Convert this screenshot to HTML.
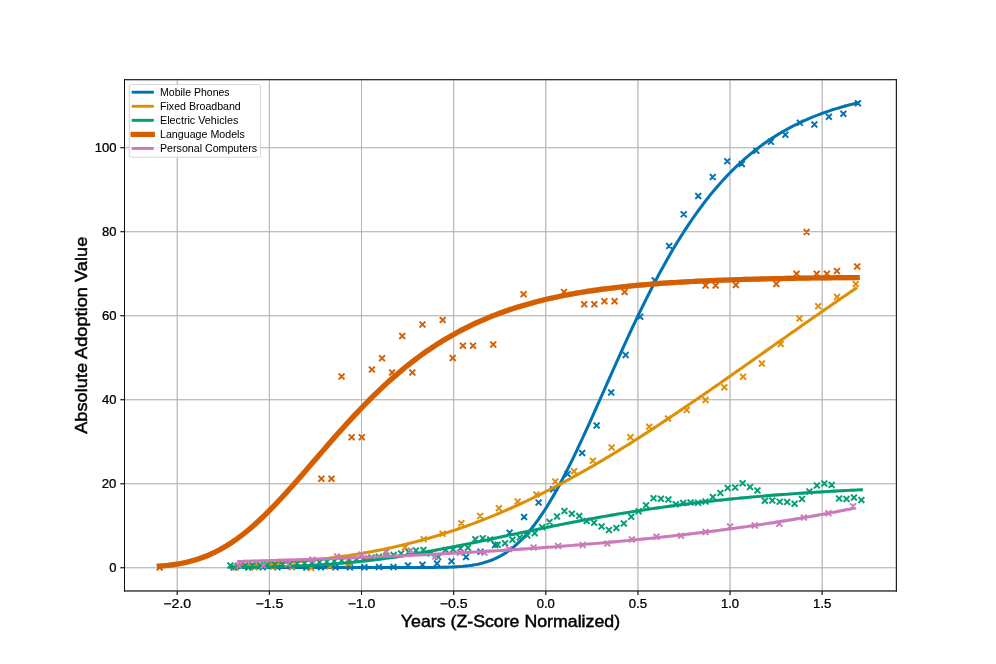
<!DOCTYPE html>
<html><head><meta charset="utf-8"><title>Adoption chart</title>
<style>html,body{margin:0;padding:0;background:#fff;} svg{display:block;} svg{will-change:transform;}</style></head>
<body>
<svg width="996" height="664" viewBox="0 0 996 664">
<rect width="996" height="664" fill="#ffffff"/>
<defs><clipPath id="ax"><rect x="124.5" y="79.68" width="771.9" height="511.28"/></clipPath><filter id="gam" x="0" y="0" width="100%" height="100%" filterUnits="userSpaceOnUse" color-interpolation-filters="sRGB"><feComponentTransfer><feFuncA type="gamma" amplitude="1" exponent="0.7" offset="0"/></feComponentTransfer></filter></defs>
<g filter="url(#gam)">
<path d="M177.26 79.68V590.96M269.39 79.68V590.96M361.52 79.68V590.96M453.65 79.68V590.96M545.78 79.68V590.96M637.91 79.68V590.96M730.04 79.68V590.96M822.17 79.68V590.96M124.5 567.72H896.4M124.5 483.72H896.4M124.5 399.71H896.4M124.5 315.71H896.4M124.5 231.70H896.4M124.5 147.70H896.4" stroke="#b0b0b0" stroke-width="0.922" fill="none" stroke-opacity="1"/>
<g clip-path="url(#ax)">
<path d="M230.95 564.52L236.71 570.28M230.95 570.28L236.71 564.52M245.46 564.52L251.23 570.28M245.46 570.28L251.23 564.52M259.97 564.42L265.74 570.18M259.97 570.18L265.74 564.42M274.49 564.32L280.25 570.08M274.49 570.08L280.25 564.32M289.00 564.12L294.77 569.88M289.00 569.88L294.77 564.12M303.51 564.52L309.28 570.28M303.51 570.28L309.28 564.52M318.03 564.42L323.79 570.18M318.03 570.18L323.79 564.42M332.54 564.42L338.31 570.18M332.54 570.18L338.31 564.42M347.05 564.32L352.82 570.08M347.05 570.08L352.82 564.32M361.57 564.32L367.33 570.08M361.57 570.08L367.33 564.32M376.08 564.22L381.85 569.98M376.08 569.98L381.85 564.22M390.59 564.12L396.36 569.88M390.59 569.88L396.36 564.12M405.11 562.52L410.87 568.28M405.11 568.28L410.87 562.52M419.62 561.92L425.38 567.68M419.62 567.68L425.38 561.92M434.13 560.72L439.90 566.48M434.13 566.48L439.90 560.72M448.65 558.42L454.41 564.18M448.65 564.18L454.41 558.42M463.16 554.22L468.92 559.98M463.16 559.98L468.92 554.22M477.67 548.92L483.44 554.68M477.67 554.68L483.44 548.92M492.19 542.22L497.95 547.98M492.19 547.98L497.95 542.22M506.70 529.82L512.46 535.58M506.70 535.58L512.46 529.82M521.21 514.22L526.98 519.98M521.21 519.98L526.98 514.22M535.73 499.72L541.49 505.48M535.73 505.48L541.49 499.72M550.24 486.32L556.00 492.08M550.24 492.08L556.00 486.32M564.75 471.12L570.52 476.88M564.75 476.88L570.52 471.12M579.27 450.02L585.03 455.78M579.27 455.78L585.03 450.02M593.78 422.52L599.54 428.28M593.78 428.28L599.54 422.52M608.29 389.52L614.06 395.28M608.29 395.28L614.06 389.52M622.81 352.12L628.57 357.88M622.81 357.88L628.57 352.12M637.32 313.92L643.08 319.68M637.32 319.68L643.08 313.92M651.83 277.32L657.60 283.08M651.83 283.08L657.60 277.32M666.35 243.12L672.11 248.88M666.35 248.88L672.11 243.12M680.86 211.32L686.62 217.08M680.86 217.08L686.62 211.32M695.37 193.22L701.14 198.98M695.37 198.98L701.14 193.22M709.89 174.02L715.65 179.78M709.89 179.78L715.65 174.02M724.40 158.42L730.16 164.18M724.40 164.18L730.16 158.42M738.91 161.02L744.68 166.78M738.91 166.78L744.68 161.02M753.43 147.82L759.19 153.58M753.43 153.58L759.19 147.82M767.94 138.82L773.70 144.58M767.94 144.58L773.70 138.82M782.45 131.82L788.22 137.58M782.45 137.58L788.22 131.82M796.97 119.92L802.73 125.68M796.97 125.68L802.73 119.92M811.48 121.72L817.24 127.48M811.48 127.48L817.24 121.72M825.99 113.92L831.76 119.68M825.99 119.68L831.76 113.92M840.51 110.92L846.27 116.68M840.51 116.68L846.27 110.92M855.02 100.42L860.78 106.18M855.02 106.18L860.78 100.42" stroke="#0173B2" stroke-width="1.73" fill="none"/>
<polyline points="233.83,567.53 236.97,567.53 240.10,567.53 243.24,567.53 246.37,567.53 249.51,567.53 252.65,567.53 255.78,567.53 258.92,567.53 262.05,567.53 265.19,567.53 268.33,567.53 271.46,567.53 274.60,567.53 277.73,567.53 280.87,567.53 284.01,567.53 287.14,567.53 290.28,567.53 293.41,567.53 296.55,567.53 299.69,567.53 302.82,567.53 305.96,567.53 309.10,567.53 312.23,567.53 315.37,567.53 318.50,567.53 321.64,567.53 324.78,567.53 327.91,567.53 331.05,567.53 334.18,567.53 337.32,567.53 340.46,567.53 343.59,567.53 346.73,567.53 349.86,567.53 353.00,567.53 356.14,567.53 359.27,567.53 362.41,567.53 365.54,567.53 368.68,567.53 371.82,567.53 374.95,567.53 378.09,567.53 381.22,567.53 384.36,567.53 387.50,567.53 390.63,567.53 393.77,567.53 396.90,567.53 400.04,567.53 403.18,567.53 406.31,567.53 409.45,567.53 412.58,567.52 415.72,567.52 418.86,567.52 421.99,567.51 425.13,567.50 428.26,567.49 431.40,567.47 434.54,567.44 437.67,567.41 440.81,567.36 443.94,567.30 447.08,567.22 450.22,567.11 453.35,566.98 456.49,566.81 459.62,566.61 462.76,566.35 465.90,566.04 469.03,565.67 472.17,565.22 475.31,564.68 478.44,564.05 481.58,563.31 484.71,562.46 487.85,561.47 490.99,560.34 494.12,559.06 497.26,557.61 500.39,555.99 503.53,554.19 506.67,552.18 509.80,549.97 512.94,547.55 516.07,544.91 519.21,542.04 522.35,538.95 525.48,535.61 528.62,532.05 531.75,528.25 534.89,524.21 538.03,519.94 541.16,515.44 544.30,510.71 547.43,505.77 550.57,500.61 553.71,495.25 556.84,489.69 559.98,483.95 563.11,478.03 566.25,471.95 569.39,465.71 572.52,459.34 575.66,452.84 578.79,446.22 581.93,439.50 585.07,432.70 588.20,425.81 591.34,418.87 594.47,411.87 597.61,404.84 600.75,397.78 603.88,390.71 607.02,383.64 610.15,376.58 613.29,369.53 616.43,362.52 619.56,355.55 622.70,348.62 625.83,341.75 628.97,334.94 632.11,328.21 635.24,321.56 638.38,314.99 641.52,308.51 644.65,302.12 647.79,295.84 650.92,289.66 654.06,283.59 657.20,277.64 660.33,271.79 663.47,266.07 666.60,260.46 669.74,254.97 672.88,249.60 676.01,244.36 679.15,239.24 682.28,234.24 685.42,229.36 688.56,224.61 691.69,219.98 694.83,215.47 697.96,211.08 701.10,206.81 704.24,202.66 707.37,198.63 710.51,194.71 713.64,190.90 716.78,187.21 719.92,183.63 723.05,180.15 726.19,176.78 729.32,173.51 732.46,170.35 735.60,167.28 738.73,164.31 741.87,161.44 745.00,158.66 748.14,155.97 751.28,153.37 754.41,150.85 757.55,148.42 760.68,146.07 763.82,143.79 766.96,141.60 770.09,139.48 773.23,137.43 776.36,135.45 779.50,133.54 782.64,131.70 785.77,129.92 788.91,128.21 792.05,126.55 795.18,124.96 798.32,123.42 801.45,121.93 804.59,120.50 807.73,119.12 810.86,117.79 814.00,116.51 817.13,115.27 820.27,114.08 823.41,112.93 826.54,111.83 829.68,110.76 832.81,109.74 835.95,108.75 839.09,107.80 842.22,106.88 845.36,106.00 848.49,105.15 851.63,104.33 854.77,103.54 857.90,102.79" stroke="#0173B2" stroke-width="2.88" fill="none" stroke-linecap="square" stroke-linejoin="round"/>
<path d="M233.03 564.62L238.79 570.38M233.03 570.38L238.79 564.62M251.81 564.62L257.58 570.38M251.81 570.38L257.58 564.62M270.60 563.92L276.36 569.68M270.60 569.68L276.36 563.92M289.38 563.92L295.15 569.68M289.38 569.68L295.15 563.92M308.17 565.12L313.93 570.88M308.17 570.88L313.93 565.12M326.95 563.72L332.72 569.48M326.95 569.48L332.72 563.72M345.74 560.62L351.50 566.38M345.74 566.38L351.50 560.62M364.52 556.12L370.29 561.88M364.52 561.88L370.29 556.12M383.31 548.72L389.07 554.48M383.31 554.48L389.07 548.72M402.10 544.52L407.86 550.28M402.10 550.28L407.86 544.52M420.88 536.32L426.64 542.08M420.88 542.08L426.64 536.32M439.67 530.92L445.43 536.68M439.67 536.68L445.43 530.92M458.45 520.32L464.21 526.08M458.45 526.08L464.21 520.32M477.24 513.12L483.00 518.88M477.24 518.88L483.00 513.12M496.02 505.32L501.79 511.08M496.02 511.08L501.79 505.32M514.81 498.72L520.57 504.48M514.81 504.48L520.57 498.72M533.59 491.62L539.36 497.38M533.59 497.38L539.36 491.62M552.38 478.62L558.14 484.38M552.38 484.38L558.14 478.62M571.16 468.42L576.93 474.18M571.16 474.18L576.93 468.42M589.95 457.92L595.71 463.68M589.95 463.68L595.71 457.92M608.73 444.62L614.50 450.38M608.73 450.38L614.50 444.62M627.52 434.32L633.28 440.08M627.52 440.08L633.28 434.32M646.30 423.82L652.07 429.58M646.30 429.58L652.07 423.82M665.09 415.72L670.85 421.48M665.09 421.48L670.85 415.72M683.87 407.12L689.64 412.88M683.87 412.88L689.64 407.12M702.66 397.12L708.42 402.88M702.66 402.88L708.42 397.12M721.44 384.42L727.21 390.18M721.44 390.18L727.21 384.42M740.23 373.92L745.99 379.68M740.23 379.68L745.99 373.92M759.01 360.72L764.78 366.48M759.01 366.48L764.78 360.72M777.80 341.12L783.56 346.88M777.80 346.88L783.56 341.12M796.58 315.62L802.35 321.38M796.58 321.38L802.35 315.62M815.37 303.32L821.13 309.08M815.37 309.08L821.13 303.32M834.15 294.02L839.92 299.78M834.15 299.78L839.92 294.02M852.94 281.12L858.70 286.88M852.94 286.88L858.70 281.12" stroke="#DE8F05" stroke-width="1.73" fill="none"/>
<polyline points="235.91,565.40 239.03,565.27 242.14,565.14 245.26,565.00 248.37,564.86 251.49,564.71 254.60,564.56 257.72,564.39 260.83,564.22 263.95,564.04 267.06,563.86 270.18,563.67 273.29,563.47 276.41,563.26 279.52,563.04 282.64,562.81 285.75,562.58 288.87,562.33 291.98,562.08 295.10,561.81 298.21,561.54 301.33,561.26 304.44,560.96 307.56,560.66 310.67,560.34 313.79,560.01 316.90,559.67 320.02,559.32 323.13,558.96 326.25,558.59 329.36,558.20 332.48,557.80 335.59,557.39 338.71,556.97 341.82,556.53 344.94,556.08 348.06,555.62 351.17,555.14 354.29,554.64 357.40,554.14 360.52,553.62 363.63,553.08 366.75,552.53 369.86,551.96 372.98,551.38 376.09,550.78 379.21,550.17 382.32,549.54 385.44,548.90 388.55,548.24 391.67,547.56 394.78,546.87 397.90,546.16 401.01,545.43 404.13,544.68 407.24,543.92 410.36,543.14 413.47,542.35 416.59,541.53 419.70,540.70 422.82,539.85 425.93,538.98 429.05,538.10 432.16,537.19 435.28,536.27 438.39,535.33 441.51,534.37 444.62,533.40 447.74,532.40 450.85,531.39 453.97,530.35 457.08,529.30 460.20,528.23 463.32,527.14 466.43,526.04 469.55,524.91 472.66,523.77 475.78,522.60 478.89,521.42 482.01,520.22 485.12,519.00 488.24,517.76 491.35,516.50 494.47,515.23 497.58,513.93 500.70,512.62 503.81,511.29 506.93,509.94 510.04,508.57 513.16,507.19 516.27,505.78 519.39,504.36 522.50,502.92 525.62,501.47 528.73,499.99 531.85,498.50 534.96,496.99 538.08,495.46 541.19,493.92 544.31,492.35 547.42,490.78 550.54,489.18 553.65,487.57 556.77,485.94 559.88,484.30 563.00,482.64 566.11,480.96 569.23,479.27 572.34,477.56 575.46,475.84 578.57,474.10 581.69,472.35 584.81,470.58 587.92,468.80 591.04,467.01 594.15,465.20 597.27,463.37 600.38,461.54 603.50,459.68 606.61,457.82 609.73,455.94 612.84,454.05 615.96,452.15 619.07,450.24 622.19,448.31 625.30,446.38 628.42,444.43 631.53,442.47 634.65,440.49 637.76,438.51 640.88,436.52 643.99,434.52 647.11,432.50 650.22,430.48 653.34,428.45 656.45,426.41 659.57,424.36 662.68,422.30 665.80,420.24 668.91,418.16 672.03,416.08 675.14,413.99 678.26,411.89 681.37,409.79 684.49,407.67 687.60,405.56 690.72,403.43 693.83,401.30 696.95,399.17 700.07,397.03 703.18,394.88 706.30,392.73 709.41,390.57 712.53,388.41 715.64,386.25 718.76,384.08 721.87,381.91 724.99,379.73 728.10,377.55 731.22,375.37 734.33,373.18 737.45,371.00 740.56,368.81 743.68,366.62 746.79,364.43 749.91,362.23 753.02,360.04 756.14,357.84 759.25,355.64 762.37,353.45 765.48,351.25 768.60,349.05 771.71,346.85 774.83,344.66 777.94,342.46 781.06,340.27 784.17,338.07 787.29,335.88 790.40,333.69 793.52,331.50 796.63,329.31 799.75,327.12 802.86,324.94 805.98,322.76 809.09,320.58 812.21,318.40 815.32,316.23 818.44,314.06 821.56,311.90 824.67,309.73 827.79,307.58 830.90,305.42 834.02,303.27 837.13,301.13 840.25,298.98 843.36,296.85 846.48,294.72 849.59,292.59 852.71,290.47 855.82,288.35" stroke="#DE8F05" stroke-width="2.88" fill="none" stroke-linecap="square" stroke-linejoin="round"/>
<path d="M227.46 562.62L233.23 568.38M227.46 568.38L233.23 562.62M234.89 562.92L240.65 568.68M234.89 568.68L240.65 562.92M242.31 562.62L248.08 568.38M242.31 568.38L248.08 562.62M249.74 562.32L255.50 568.08M249.74 568.08L255.50 562.32M257.16 562.12L262.92 567.88M257.16 567.88L262.92 562.12M264.58 561.92L270.35 567.68M264.58 567.68L270.35 561.92M272.01 561.72L277.77 567.48M272.01 567.48L277.77 561.72M279.43 561.42L285.20 567.18M279.43 567.18L285.20 561.42M286.86 561.12L292.62 566.88M286.86 566.88L292.62 561.12M294.28 560.72L300.04 566.48M294.28 566.48L300.04 560.72M301.70 560.32L307.47 566.08M301.70 566.08L307.47 560.32M309.13 559.92L314.89 565.68M309.13 565.68L314.89 559.92M316.55 559.42L322.32 565.18M316.55 565.18L322.32 559.42M323.98 558.92L329.74 564.68M323.98 564.68L329.74 558.92M331.40 558.42L337.16 564.18M331.40 564.18L337.16 558.42M338.82 557.72L344.59 563.48M338.82 563.48L344.59 557.72M346.25 557.12L352.01 562.88M346.25 562.88L352.01 557.12M353.67 556.32L359.44 562.08M353.67 562.08L359.44 556.32M361.10 555.62L366.86 561.38M361.10 561.38L366.86 555.62M368.52 554.72L374.28 560.48M368.52 560.48L374.28 554.72M375.94 553.92L381.71 559.68M375.94 559.68L381.71 553.92M383.37 553.02L389.13 558.78M383.37 558.78L389.13 553.02M390.79 552.02L396.56 557.78M390.79 557.78L396.56 552.02M398.22 550.62L403.98 556.38M398.22 556.38L403.98 550.62M405.64 549.12L411.40 554.88M405.64 554.88L411.40 549.12M413.06 547.62L418.83 553.38M413.06 553.38L418.83 547.62M420.49 547.02L426.25 552.78M420.49 552.78L426.25 547.02M427.91 550.62L433.68 556.38M427.91 556.38L433.68 550.62M435.34 554.12L441.10 559.88M435.34 559.88L441.10 554.12M442.76 547.02L448.52 552.78M442.76 552.78L448.52 547.02M450.18 546.52L455.95 552.28M450.18 552.28L455.95 546.52M457.61 545.62L463.37 551.38M457.61 551.38L463.37 545.62M465.03 544.92L470.80 550.68M465.03 550.68L470.80 544.92M472.46 536.32L478.22 542.08M472.46 542.08L478.22 536.32M479.88 535.32L485.64 541.08M479.88 541.08L485.64 535.32M487.30 536.52L493.07 542.28M487.30 542.28L493.07 536.52M494.73 541.92L500.49 547.68M494.73 547.68L500.49 541.92M502.15 540.32L507.92 546.08M502.15 546.08L507.92 540.32M509.58 536.92L515.34 542.68M509.58 542.68L515.34 536.92M517.00 534.72L522.76 540.48M517.00 540.48L522.76 534.72M524.42 532.52L530.19 538.28M524.42 538.28L530.19 532.52M531.85 530.32L537.61 536.08M531.85 536.08L537.61 530.32M539.27 524.42L545.04 530.18M539.27 530.18L545.04 524.42M546.70 519.12L552.46 524.88M546.70 524.88L552.46 519.12M554.12 513.72L559.88 519.48M554.12 519.48L559.88 513.72M561.54 508.22L567.31 513.98M561.54 513.98L567.31 508.22M568.97 510.82L574.73 516.58M568.97 516.58L574.73 510.82M576.39 513.22L582.16 518.98M576.39 518.98L582.16 513.22M583.82 518.12L589.58 523.88M583.82 523.88L589.58 518.12M591.24 519.92L597.00 525.68M591.24 525.68L597.00 519.92M598.66 523.52L604.43 529.28M598.66 529.28L604.43 523.52M606.09 527.12L611.85 532.88M606.09 532.88L611.85 527.12M613.51 525.12L619.28 530.88M613.51 530.88L619.28 525.12M620.94 520.52L626.70 526.28M620.94 526.28L626.70 520.52M628.36 513.82L634.12 519.58M628.36 519.58L634.12 513.82M635.78 508.42L641.55 514.18M635.78 514.18L641.55 508.42M643.21 502.42L648.97 508.18M643.21 508.18L648.97 502.42M650.63 495.42L656.40 501.18M650.63 501.18L656.40 495.42M658.06 495.92L663.82 501.68M658.06 501.68L663.82 495.92M665.48 496.52L671.24 502.28M665.48 502.28L671.24 496.52M672.90 501.42L678.67 507.18M672.90 507.18L678.67 501.42M680.33 500.22L686.09 505.98M680.33 505.98L686.09 500.22M687.75 499.62L693.52 505.38M687.75 505.38L693.52 499.62M695.18 499.92L700.94 505.68M695.18 505.68L700.94 499.92M702.60 498.72L708.36 504.48M702.60 504.48L708.36 498.72M710.02 494.22L715.79 499.98M710.02 499.98L715.79 494.22M717.45 490.02L723.21 495.78M717.45 495.78L723.21 490.02M724.87 485.22L730.64 490.98M724.87 490.98L730.64 485.22M732.30 484.62L738.06 490.38M732.30 490.38L738.06 484.62M739.72 480.42L745.48 486.18M739.72 486.18L745.48 480.42M747.14 484.02L752.91 489.78M747.14 489.78L752.91 484.02M754.57 487.62L760.33 493.38M754.57 493.38L760.33 487.62M761.99 497.82L767.76 503.58M761.99 503.58L767.76 497.82M769.42 497.72L775.18 503.48M769.42 503.48L775.18 497.72M776.84 498.82L782.60 504.58M776.84 504.58L782.60 498.82M784.26 499.02L790.03 504.78M784.26 504.78L790.03 499.02M791.69 500.82L797.45 506.58M791.69 506.58L797.45 500.82M799.11 496.22L804.88 501.98M799.11 501.98L804.88 496.22M806.54 488.72L812.30 494.48M806.54 494.48L812.30 488.72M813.96 482.72L819.72 488.48M813.96 488.48L819.72 482.72M821.38 480.72L827.15 486.48M821.38 486.48L827.15 480.72M828.81 482.22L834.57 487.98M828.81 487.98L834.57 482.22M836.23 495.72L842.00 501.48M836.23 501.48L842.00 495.72M843.66 496.22L849.42 501.98M843.66 501.98L849.42 496.22M851.08 494.72L856.84 500.48M851.08 500.48L856.84 494.72M858.50 497.22L864.27 502.98M858.50 502.98L864.27 497.22" stroke="#029E73" stroke-width="1.73" fill="none"/>
<polyline points="230.35,567.38 233.52,567.36 236.69,567.34 239.86,567.31 243.03,567.28 246.20,567.25 249.37,567.22 252.54,567.18 255.71,567.13 258.89,567.09 262.06,567.03 265.23,566.98 268.40,566.91 271.57,566.85 274.74,566.77 277.91,566.69 281.08,566.61 284.25,566.51 287.43,566.41 290.60,566.30 293.77,566.19 296.94,566.07 300.11,565.93 303.28,565.79 306.45,565.64 309.62,565.49 312.79,565.32 315.96,565.14 319.14,564.95 322.31,564.75 325.48,564.54 328.65,564.32 331.82,564.09 334.99,563.85 338.16,563.60 341.33,563.33 344.50,563.06 347.68,562.77 350.85,562.47 354.02,562.16 357.19,561.83 360.36,561.50 363.53,561.15 366.70,560.79 369.87,560.42 373.04,560.03 376.21,559.63 379.39,559.23 382.56,558.81 385.73,558.38 388.90,557.93 392.07,557.48 395.24,557.01 398.41,556.54 401.58,556.05 404.75,555.55 407.93,555.04 411.10,554.52 414.27,553.99 417.44,553.46 420.61,552.91 423.78,552.35 426.95,551.79 430.12,551.22 433.29,550.63 436.46,550.04 439.64,549.45 442.81,548.84 445.98,548.23 449.15,547.62 452.32,547.00 455.49,546.37 458.66,545.73 461.83,545.10 465.00,544.45 468.18,543.81 471.35,543.15 474.52,542.50 477.69,541.84 480.86,541.18 484.03,540.52 487.20,539.85 490.37,539.19 493.54,538.52 496.71,537.85 499.89,537.18 503.06,536.51 506.23,535.84 509.40,535.17 512.57,534.50 515.74,533.83 518.91,533.16 522.08,532.49 525.25,531.83 528.43,531.17 531.60,530.51 534.77,529.85 537.94,529.19 541.11,528.54 544.28,527.89 547.45,527.24 550.62,526.60 553.79,525.96 556.96,525.32 560.14,524.69 563.31,524.06 566.48,523.44 569.65,522.82 572.82,522.21 575.99,521.60 579.16,521.00 582.33,520.40 585.50,519.80 588.68,519.21 591.85,518.63 595.02,518.06 598.19,517.48 601.36,516.92 604.53,516.36 607.70,515.80 610.87,515.26 614.04,514.71 617.21,514.18 620.39,513.65 623.56,513.12 626.73,512.61 629.90,512.09 633.07,511.59 636.24,511.09 639.41,510.60 642.58,510.11 645.75,509.63 648.93,509.16 652.10,508.69 655.27,508.23 658.44,507.77 661.61,507.32 664.78,506.88 667.95,506.45 671.12,506.02 674.29,505.59 677.46,505.17 680.64,504.76 683.81,504.36 686.98,503.96 690.15,503.56 693.32,503.18 696.49,502.80 699.66,502.42 702.83,502.05 706.00,501.69 709.18,501.33 712.35,500.98 715.52,500.63 718.69,500.29 721.86,499.95 725.03,499.62 728.20,499.30 731.37,498.98 734.54,498.66 737.71,498.36 740.89,498.05 744.06,497.75 747.23,497.46 750.40,497.17 753.57,496.89 756.74,496.61 759.91,496.34 763.08,496.07 766.25,495.80 769.43,495.54 772.60,495.29 775.77,495.04 778.94,494.79 782.11,494.55 785.28,494.32 788.45,494.08 791.62,493.85 794.79,493.63 797.96,493.41 801.14,493.19 804.31,492.98 807.48,492.77 810.65,492.57 813.82,492.37 816.99,492.17 820.16,491.98 823.33,491.79 826.50,491.60 829.68,491.42 832.85,491.24 836.02,491.06 839.19,490.89 842.36,490.72 845.53,490.56 848.70,490.39 851.87,490.23 855.04,490.08 858.21,489.92 861.39,489.77" stroke="#029E73" stroke-width="2.88" fill="none" stroke-linecap="square" stroke-linejoin="round"/>
<path d="M156.72 564.72L162.48 570.48M156.72 570.48L162.48 564.72M318.48 475.92L324.24 481.68M318.48 481.68L324.24 475.92M328.59 475.92L334.35 481.68M328.59 481.68L334.35 475.92M338.70 373.52L344.46 379.28M338.70 379.28L344.46 373.52M348.81 434.32L354.57 440.08M348.81 440.08L354.57 434.32M358.92 434.32L364.68 440.08M358.92 440.08L364.68 434.32M369.03 366.62L374.79 372.38M369.03 372.38L374.79 366.62M379.14 355.42L384.90 361.18M379.14 361.18L384.90 355.42M389.25 369.62L395.01 375.38M389.25 375.38L395.01 369.62M399.36 333.12L405.12 338.88M399.36 338.88L405.12 333.12M409.47 369.62L415.23 375.38M409.47 375.38L415.23 369.62M419.58 321.72L425.34 327.48M419.58 327.48L425.34 321.72M439.80 317.12L445.56 322.88M439.80 322.88L445.56 317.12M449.91 355.12L455.67 360.88M449.91 360.88L455.67 355.12M460.02 342.92L465.78 348.68M460.02 348.68L465.78 342.92M470.13 342.92L475.89 348.68M470.13 348.68L475.89 342.92M490.35 341.52L496.11 347.28M490.35 347.28L496.11 341.52M520.68 291.42L526.44 297.18M520.68 297.18L526.44 291.42M561.12 289.12L566.88 294.88M561.12 294.88L566.88 289.12M581.34 301.32L587.10 307.08M581.34 307.08L587.10 301.32M591.45 301.32L597.21 307.08M591.45 307.08L597.21 301.32M601.56 298.32L607.32 304.08M601.56 304.08L607.32 298.32M611.67 298.32L617.43 304.08M611.67 304.08L617.43 298.32M621.78 289.02L627.54 294.78M621.78 294.78L627.54 289.02M702.66 282.72L708.42 288.48M702.66 288.48L708.42 282.72M712.77 282.72L718.53 288.48M712.77 288.48L718.53 282.72M732.99 282.02L738.75 287.78M732.99 287.78L738.75 282.02M773.43 281.22L779.19 286.98M773.43 286.98L779.19 281.22M793.65 270.92L799.41 276.68M793.65 276.68L799.41 270.92M803.76 229.12L809.52 234.88M803.76 234.88L809.52 229.12M813.87 270.92L819.63 276.68M813.87 276.68L819.63 270.92M823.98 270.92L829.74 276.68M823.98 276.68L829.74 270.92M834.09 268.12L839.85 273.88M834.09 273.88L839.85 268.12M854.31 263.52L860.07 269.28M854.31 269.28L860.07 263.52" stroke="#D55E00" stroke-width="1.73" fill="none"/>
<polyline points="159.60,566.16 163.11,565.86 166.61,565.50 170.12,565.09 173.62,564.62 177.13,564.07 180.63,563.45 184.14,562.75 187.64,561.95 191.15,561.07 194.65,560.08 198.16,558.99 201.67,557.79 205.17,556.48 208.68,555.04 212.18,553.49 215.69,551.81 219.19,550.00 222.70,548.07 226.20,546.00 229.71,543.81 233.22,541.48 236.72,539.03 240.23,536.45 243.73,533.75 247.24,530.93 250.74,527.98 254.25,524.93 257.75,521.77 261.26,518.50 264.76,515.13 268.27,511.68 271.78,508.13 275.28,504.51 278.79,500.81 282.29,497.04 285.80,493.22 289.30,489.34 292.81,485.41 296.31,481.45 299.82,477.45 303.32,473.43 306.83,469.38 310.34,465.32 313.84,461.26 317.35,457.19 320.85,453.13 324.36,449.08 327.86,445.05 331.37,441.03 334.87,437.05 338.38,433.09 341.88,429.16 345.39,425.28 348.90,421.43 352.40,417.63 355.91,413.88 359.41,410.18 362.92,406.54 366.42,402.95 369.93,399.41 373.43,395.94 376.94,392.53 380.45,389.19 383.95,385.91 387.46,382.69 390.96,379.54 394.47,376.45 397.97,373.44 401.48,370.49 404.98,367.61 408.49,364.79 411.99,362.05 415.50,359.37 419.01,356.76 422.51,354.21 426.02,351.73 429.52,349.32 433.03,346.97 436.53,344.68 440.04,342.46 443.54,340.29 447.05,338.19 450.55,336.15 454.06,334.17 457.57,332.25 461.07,330.38 464.58,328.57 468.08,326.81 471.59,325.11 475.09,323.46 478.60,321.86 482.10,320.31 485.61,318.80 489.11,317.35 492.62,315.94 496.13,314.58 499.63,313.26 503.14,311.98 506.64,310.74 510.15,309.55 513.65,308.39 517.16,307.28 520.66,306.20 524.17,305.15 527.68,304.14 531.18,303.17 534.69,302.22 538.19,301.31 541.70,300.44 545.20,299.59 548.71,298.77 552.21,297.97 555.72,297.21 559.22,296.47 562.73,295.76 566.24,295.07 569.74,294.41 573.25,293.77 576.75,293.15 580.26,292.55 583.76,291.98 587.27,291.42 590.77,290.89 594.28,290.37 597.78,289.87 601.29,289.39 604.80,288.93 608.30,288.48 611.81,288.05 615.31,287.63 618.82,287.23 622.32,286.85 625.83,286.48 629.33,286.12 632.84,285.77 636.34,285.44 639.85,285.12 643.36,284.81 646.86,284.51 650.37,284.22 653.87,283.95 657.38,283.68 660.88,283.42 664.39,283.17 667.89,282.93 671.40,282.70 674.91,282.48 678.41,282.27 681.92,282.06 685.42,281.86 688.93,281.67 692.43,281.49 695.94,281.31 699.44,281.14 702.95,280.98 706.45,280.82 709.96,280.67 713.47,280.52 716.97,280.38 720.48,280.24 723.98,280.11 727.49,279.98 730.99,279.86 734.50,279.74 738.00,279.63 741.51,279.52 745.01,279.42 748.52,279.32 752.03,279.22 755.53,279.13 759.04,279.04 762.54,278.95 766.05,278.86 769.55,278.78 773.06,278.71 776.56,278.63 780.07,278.56 783.57,278.49 787.08,278.42 790.59,278.36 794.09,278.30 797.60,278.24 801.10,278.18 804.61,278.13 808.11,278.07 811.62,278.02 815.12,277.97 818.63,277.93 822.14,277.88 825.64,277.84 829.15,277.79 832.65,277.75 836.16,277.71 839.66,277.68 843.17,277.64 846.67,277.60 850.18,277.57 853.68,277.54 857.19,277.51" stroke="#D55E00" stroke-width="5.19" fill="none" stroke-linecap="square" stroke-linejoin="round"/>
<path d="M235.82 562.82L241.59 568.58M235.82 568.58L241.59 562.82M260.40 562.82L266.16 568.58M260.40 568.58L266.16 562.82M284.97 561.22L290.73 566.98M284.97 566.98L290.73 561.22M309.54 556.82L315.31 562.58M309.54 562.58L315.31 556.82M334.12 553.62L339.88 559.38M334.12 559.38L339.88 553.62M358.69 551.52L364.45 557.28M358.69 557.28L364.45 551.52M383.26 549.22L389.02 554.98M383.26 554.98L389.02 549.22M407.83 547.62L413.60 553.38M407.83 553.38L413.60 547.62M432.41 553.62L438.17 559.38M432.41 559.38L438.17 553.62M456.98 549.92L462.74 555.68M456.98 555.68L462.74 549.92M481.55 549.82L487.32 555.58M481.55 555.58L487.32 549.82M506.12 546.12L511.89 551.88M506.12 551.88L511.89 546.12M530.70 544.72L536.46 550.48M530.70 550.48L536.46 544.72M555.27 543.12L561.03 548.88M555.27 548.88L561.03 543.12M579.84 542.22L585.61 547.98M579.84 547.98L585.61 542.22M604.42 540.72L610.18 546.48M604.42 546.48L610.18 540.72M628.99 536.52L634.75 542.28M628.99 542.28L634.75 536.52M653.56 533.82L659.33 539.58M653.56 539.58L659.33 533.82M678.13 532.82L683.90 538.58M678.13 538.58L683.90 532.82M702.71 529.22L708.47 534.98M702.71 534.98L708.47 529.22M727.28 523.72L733.04 529.48M727.28 529.48L733.04 523.72M751.85 522.72L757.62 528.48M751.85 528.48L757.62 522.72M776.43 520.92L782.19 526.68M776.43 526.68L782.19 520.92M801.00 514.52L806.76 520.28M801.00 520.28L806.76 514.52M825.57 510.32L831.34 516.08M825.57 516.08L831.34 510.32M850.14 503.42L855.91 509.18M850.14 509.18L855.91 503.42" stroke="#CC78BC" stroke-width="1.73" fill="none"/>
<polyline points="238.71,561.42 241.79,561.34 244.88,561.25 247.97,561.17 251.05,561.09 254.14,561.00 257.23,560.92 260.32,560.83 263.40,560.74 266.49,560.66 269.58,560.57 272.66,560.48 275.75,560.39 278.84,560.29 281.92,560.20 285.01,560.11 288.10,560.01 291.19,559.92 294.27,559.82 297.36,559.72 300.45,559.62 303.53,559.52 306.62,559.42 309.71,559.32 312.79,559.22 315.88,559.11 318.97,559.01 322.06,558.90 325.14,558.80 328.23,558.69 331.32,558.58 334.40,558.47 337.49,558.36 340.58,558.24 343.67,558.13 346.75,558.01 349.84,557.90 352.93,557.78 356.01,557.66 359.10,557.54 362.19,557.42 365.27,557.30 368.36,557.17 371.45,557.05 374.54,556.92 377.62,556.79 380.71,556.66 383.80,556.53 386.88,556.40 389.97,556.27 393.06,556.14 396.14,556.00 399.23,555.86 402.32,555.72 405.41,555.58 408.49,555.44 411.58,555.30 414.67,555.15 417.75,555.01 420.84,554.86 423.93,554.71 427.02,554.56 430.10,554.41 433.19,554.26 436.28,554.10 439.36,553.94 442.45,553.78 445.54,553.62 448.62,553.46 451.71,553.30 454.80,553.13 457.89,552.97 460.97,552.80 464.06,552.63 467.15,552.46 470.23,552.28 473.32,552.11 476.41,551.93 479.49,551.75 482.58,551.57 485.67,551.39 488.76,551.20 491.84,551.01 494.93,550.82 498.02,550.63 501.10,550.44 504.19,550.25 507.28,550.05 510.37,549.85 513.45,549.65 516.54,549.45 519.63,549.24 522.71,549.04 525.80,548.83 528.89,548.61 531.97,548.40 535.06,548.18 538.15,547.97 541.24,547.75 544.32,547.52 547.41,547.30 550.50,547.07 553.58,546.84 556.67,546.61 559.76,546.38 562.84,546.14 565.93,545.90 569.02,545.66 572.11,545.41 575.19,545.17 578.28,544.92 581.37,544.67 584.45,544.41 587.54,544.15 590.63,543.89 593.72,543.63 596.80,543.37 599.89,543.10 602.98,542.83 606.06,542.56 609.15,542.28 612.24,542.00 615.32,541.72 618.41,541.43 621.50,541.14 624.59,540.85 627.67,540.56 630.76,540.26 633.85,539.96 636.93,539.66 640.02,539.35 643.11,539.04 646.19,538.73 649.28,538.42 652.37,538.10 655.46,537.77 658.54,537.45 661.63,537.12 664.72,536.79 667.80,536.45 670.89,536.11 673.98,535.77 677.06,535.42 680.15,535.07 683.24,534.72 686.33,534.36 689.41,534.00 692.50,533.64 695.59,533.27 698.67,532.89 701.76,532.52 704.85,532.14 707.94,531.75 711.02,531.37 714.11,530.97 717.20,530.58 720.28,530.18 723.37,529.77 726.46,529.36 729.54,528.95 732.63,528.54 735.72,528.11 738.81,527.69 741.89,527.26 744.98,526.82 748.07,526.38 751.15,525.94 754.24,525.49 757.33,525.04 760.41,524.58 763.50,524.12 766.59,523.65 769.68,523.18 772.76,522.71 775.85,522.22 778.94,521.74 782.02,521.25 785.11,520.75 788.20,520.25 791.29,519.74 794.37,519.23 797.46,518.71 800.55,518.19 803.63,517.66 806.72,517.12 809.81,516.59 812.89,516.04 815.98,515.49 819.07,514.93 822.16,514.37 825.24,513.80 828.33,513.23 831.42,512.65 834.50,512.07 837.59,511.47 840.68,510.88 843.76,510.27 846.85,509.66 849.94,509.04 853.03,508.42" stroke="#CC78BC" stroke-width="2.88" fill="none" stroke-linecap="square" stroke-linejoin="round"/>
</g>
<path d="M124.5 590.96 V79.68 M896.4 590.96 V79.68 M124.5 79.68 H896.4 M124.5 590.96 H896.4" stroke="#000" stroke-width="0.922" fill="none" stroke-linecap="square"/>
<path d="M177.26 590.96v4.03M269.39 590.96v4.03M361.52 590.96v4.03M453.65 590.96v4.03M545.78 590.96v4.03M637.91 590.96v4.03M730.04 590.96v4.03M822.17 590.96v4.03M124.5 567.72h-4.03M124.5 483.72h-4.03M124.5 399.71h-4.03M124.5 315.71h-4.03M124.5 231.70h-4.03M124.5 147.70h-4.03" stroke="#000" stroke-width="0.92" fill="none"/>
<text x="177.26" y="607.90" font-family="'Liberation Sans', sans-serif" font-size="12.30" text-anchor="middle" textLength="27.88" lengthAdjust="spacingAndGlyphs" fill="#000" stroke="#000" stroke-width="0.1">−2.0</text>
<text x="269.39" y="607.90" font-family="'Liberation Sans', sans-serif" font-size="12.30" text-anchor="middle" textLength="27.88" lengthAdjust="spacingAndGlyphs" fill="#000" stroke="#000" stroke-width="0.1">−1.5</text>
<text x="361.52" y="607.90" font-family="'Liberation Sans', sans-serif" font-size="12.30" text-anchor="middle" textLength="27.75" lengthAdjust="spacingAndGlyphs" fill="#000" stroke="#000" stroke-width="0.1">−1.0</text>
<text x="453.65" y="607.90" font-family="'Liberation Sans', sans-serif" font-size="12.30" text-anchor="middle" textLength="27.88" lengthAdjust="spacingAndGlyphs" fill="#000" stroke="#000" stroke-width="0.1">−0.5</text>
<text x="545.78" y="607.90" font-family="'Liberation Sans', sans-serif" font-size="12.30" text-anchor="middle" textLength="18.12" lengthAdjust="spacingAndGlyphs" fill="#000" stroke="#000" stroke-width="0.1">0.0</text>
<text x="637.91" y="607.90" font-family="'Liberation Sans', sans-serif" font-size="12.30" text-anchor="middle" textLength="18.25" lengthAdjust="spacingAndGlyphs" fill="#000" stroke="#000" stroke-width="0.1">0.5</text>
<text x="730.04" y="607.90" font-family="'Liberation Sans', sans-serif" font-size="12.30" text-anchor="middle" textLength="18.12" lengthAdjust="spacingAndGlyphs" fill="#000" stroke="#000" stroke-width="0.1">1.0</text>
<text x="822.17" y="607.90" font-family="'Liberation Sans', sans-serif" font-size="12.30" text-anchor="middle" textLength="18.25" lengthAdjust="spacingAndGlyphs" fill="#000" stroke="#000" stroke-width="0.1">1.5</text>
<text x="116.40" y="571.92" font-family="'Liberation Sans', sans-serif" font-size="12.30" text-anchor="end" textLength="7.25" lengthAdjust="spacingAndGlyphs" fill="#000" stroke="#000" stroke-width="0.1">0</text>
<text x="116.40" y="487.92" font-family="'Liberation Sans', sans-serif" font-size="12.30" text-anchor="end" textLength="14.62" lengthAdjust="spacingAndGlyphs" fill="#000" stroke="#000" stroke-width="0.1">20</text>
<text x="116.40" y="403.91" font-family="'Liberation Sans', sans-serif" font-size="12.30" text-anchor="end" textLength="14.50" lengthAdjust="spacingAndGlyphs" fill="#000" stroke="#000" stroke-width="0.1">40</text>
<text x="116.40" y="319.91" font-family="'Liberation Sans', sans-serif" font-size="12.30" text-anchor="end" textLength="14.50" lengthAdjust="spacingAndGlyphs" fill="#000" stroke="#000" stroke-width="0.1">60</text>
<text x="116.40" y="235.90" font-family="'Liberation Sans', sans-serif" font-size="12.30" text-anchor="end" textLength="14.50" lengthAdjust="spacingAndGlyphs" fill="#000" stroke="#000" stroke-width="0.1">80</text>
<text x="116.40" y="151.90" font-family="'Liberation Sans', sans-serif" font-size="12.30" text-anchor="end" textLength="21.75" lengthAdjust="spacingAndGlyphs" fill="#000" stroke="#000" stroke-width="0.1">100</text>
<text x="510.45" y="626.90" font-family="'Liberation Sans', sans-serif" font-size="16.40" text-anchor="middle" textLength="219.25" lengthAdjust="spacingAndGlyphs" fill="#000" stroke="#000" stroke-width="0.3">Years (Z-Score Normalized)</text>
<text x="0.00" y="0.00" font-family="'Liberation Sans', sans-serif" font-size="16.40" text-anchor="middle" textLength="197.12" lengthAdjust="spacingAndGlyphs" transform="translate(86.7 335.3) rotate(-90)" fill="#000" stroke="#000" stroke-width="0.3">Absolute Adoption Value</text>
<rect x="129.4" y="84.5" width="131.1" height="72.7" rx="1.9" fill="#ffffff" fill-opacity="0.8" stroke="#cccccc" stroke-opacity="0.8" stroke-width="0.92"/>
<path d="M133.14 92.20H152.35" stroke="#0173B2" stroke-width="2.88" stroke-linecap="square"/>
<text x="160.03" y="96.10" font-family="'Liberation Sans', sans-serif" font-size="10.40" text-anchor="start" textLength="69.62" lengthAdjust="spacingAndGlyphs" fill="#000" stroke="#000" stroke-width="0.0">Mobile Phones</text>
<path d="M133.14 106.26H152.35" stroke="#DE8F05" stroke-width="2.88" stroke-linecap="square"/>
<text x="160.03" y="110.16" font-family="'Liberation Sans', sans-serif" font-size="10.40" text-anchor="start" textLength="80.75" lengthAdjust="spacingAndGlyphs" fill="#000" stroke="#000" stroke-width="0.0">Fixed Broadband</text>
<path d="M133.14 120.32H152.35" stroke="#029E73" stroke-width="2.88" stroke-linecap="square"/>
<text x="160.03" y="124.22" font-family="'Liberation Sans', sans-serif" font-size="10.40" text-anchor="start" textLength="78.25" lengthAdjust="spacingAndGlyphs" fill="#000" stroke="#000" stroke-width="0.0">Electric Vehicles</text>
<path d="M133.14 134.38H152.35" stroke="#D55E00" stroke-width="5.19" stroke-linecap="square"/>
<text x="160.03" y="138.28" font-family="'Liberation Sans', sans-serif" font-size="10.40" text-anchor="start" textLength="84.75" lengthAdjust="spacingAndGlyphs" fill="#000" stroke="#000" stroke-width="0.0">Language Models</text>
<path d="M133.14 148.44H152.35" stroke="#CC78BC" stroke-width="2.88" stroke-linecap="square"/>
<text x="160.03" y="152.34" font-family="'Liberation Sans', sans-serif" font-size="10.40" text-anchor="start" textLength="97.00" lengthAdjust="spacingAndGlyphs" fill="#000" stroke="#000" stroke-width="0.0">Personal Computers</text>
</g>
</svg>
</body></html>
